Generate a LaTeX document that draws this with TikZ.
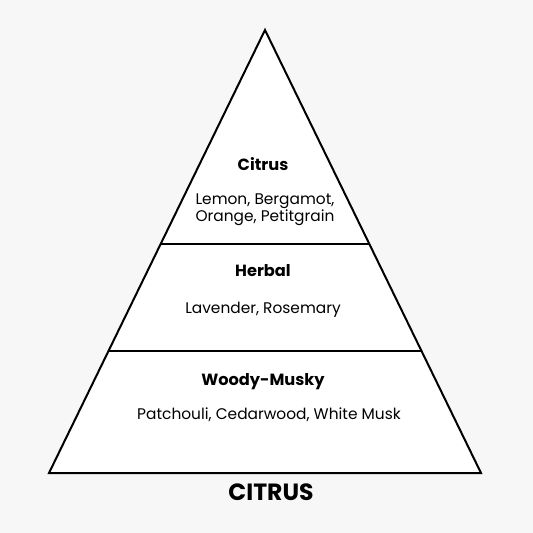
\documentclass[tikz,border=0pt]{standalone}
\usepackage{fontspec}
\setmainfont{Poppins}
\definecolor{bgc}{RGB}{247,247,248}
\tikzset{
  tier/.style={font=\fontsize{16.2}{20}\selectfont\bfseries, inner sep=0pt, anchor=center},
  notes/.style={font=\fontsize{15.4}{17}\selectfont, inner sep=0pt, anchor=center, align=center},
  edge/.style={line width=2pt, black},
}
\begin{document}
\begin{tikzpicture}[x=1pt,y=-1pt]
\fill[bgc] (0,0) rectangle (533,533);
\useasboundingbox (0,0) rectangle (533,533);
\coordinate (A) at (265,30);
\coordinate (L) at (49,473);
\coordinate (R) at (481,473);
\fill[white] (A) -- (L) -- (R) -- cycle;
\coordinate (l1) at (160.7,244);
\coordinate (r1) at (369.3,244);
\coordinate (l2) at (108.5,351);
\coordinate (r2) at (421.5,351);
\draw[edge] (l1) -- (r1);
\draw[edge] (l2) -- (r2);
\draw[edge, line join=miter] (A) -- (L) -- (R) -- cycle;
\node[tier] (t1) at (263,164) {Citrus};
\node[notes] (n1) at (265,210) {Lemon, Bergamot,\\Orange, Petitgrain};
\node[tier] (t2) at (263,271) {Herbal};
\node[notes] (n2) at (263,310) {Lavender, Rosemary};
\node[tier] (t3) at (263,382) {Woody-Musky};
\node[notes] (n3) at (269,415) {Patchouli, Cedarwood, White Musk};
\node[font=\fontsize{23.5}{26}\selectfont\bfseries, inner sep=0pt] (ttl) at (271,492) {CITRUS};
\end{tikzpicture}
\end{document}
